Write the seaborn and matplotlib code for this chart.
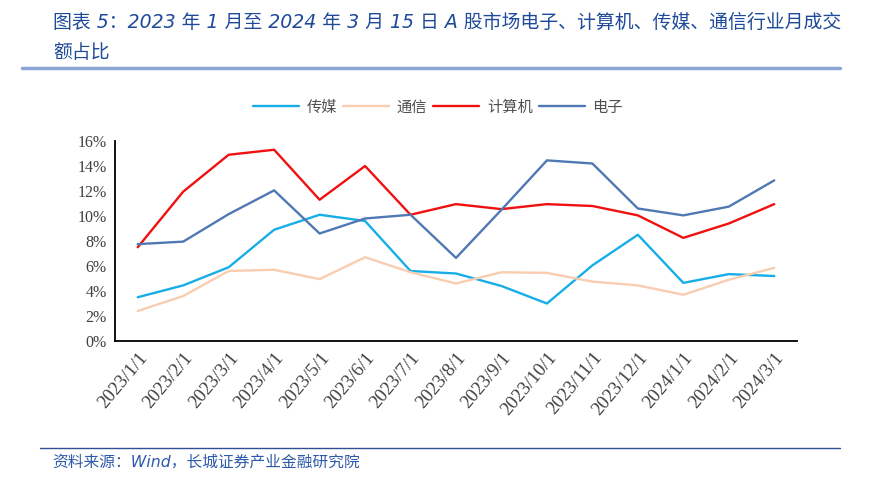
import seaborn as sns
import pandas as pd
import matplotlib.pyplot as plt
import matplotlib.ticker as mticker

# data (monthly turnover share, %)
months = ['2023/1/1', '2023/2/1', '2023/3/1', '2023/4/1', '2023/5/1', '2023/6/1',
          '2023/7/1', '2023/8/1', '2023/9/1', '2023/10/1', '2023/11/1', '2023/12/1',
          '2024/1/1', '2024/2/1', '2024/3/1']
media = [3.5, 4.45, 5.9, 8.9, 10.1, 9.6, 5.6, 5.4, 4.4, 3.0, 6.05, 8.5, 4.65, 5.35, 5.2]
telecom = [2.4, 3.6, 5.6, 5.7, 4.95, 6.7, 5.5, 4.6, 5.5, 5.45, 4.75, 4.45, 3.7, 4.9, 5.85]
computer = [7.5, 11.95, 14.9, 15.3, 11.3, 14.0, 10.1, 10.95, 10.55, 10.95, 10.8, 10.05, 8.25, 9.4, 10.95]
electronics = [7.75, 7.95, 10.15, 12.05, 8.6, 9.8, 10.1, 6.65, 10.5, 14.45, 14.2, 10.6, 10.05, 10.75, 12.85]

series_names = ['传媒', '通信', '计算机', '电子']
colors = ['#17AEE8', '#F8CDB0', '#F01010', '#5078B4']

df = pd.DataFrame({
    'month': months * 4,
    'industry': [n for n in series_names for _ in months],
    'share': media + telecom + computer + electronics,
})

sns.set_style('white')
plt.rcParams['font.family'] = ['DejaVu Sans', 'Noto Sans CJK SC']

fig = plt.figure(figsize=(8.76, 5.04), dpi=100)
ax = fig.add_axes([115 / 876, 1 - 341 / 504, (797 - 115) / 876, 200 / 504])

sns.lineplot(data=df, x='month', y='share', hue='industry', hue_order=series_names,
             palette=colors, linewidth=1.7, sort=False, ax=ax)

ax.set_xlim(-0.5, len(months) - 0.5)
ax.set_ylim(0, 16)
ax.set_yticks(range(0, 17, 2))
ax.yaxis.set_major_formatter(mticker.FuncFormatter(lambda v, p: f'{int(v)}%'))
ax.set_xticks(range(len(months)))
ax.set_xticklabels(months)
ax.set_xticks([i - 0.5 for i in range(len(months) + 1)], minor=True)
ax.tick_params(axis='x', which='major', length=0, pad=6)
ax.tick_params(axis='x', which='minor', length=5, width=1.2, color='black', direction='out')
ax.tick_params(axis='y', length=4, width=1.2, color='black', direction='out', pad=2)
for lab in ax.get_xticklabels():
    lab.set_rotation(50)
    lab.set_ha('right')
    lab.set_rotation_mode('anchor')
    lab.set_fontsize(13.5)
for lab in ax.get_yticklabels():
    lab.set_fontsize(11.5)
for lab in ax.get_xticklabels() + ax.get_yticklabels():
    lab.set_family('Liberation Serif')
    lab.set_color('#404040')
ax.set_xlabel('')
ax.set_ylabel('')
for s in ['top', 'right']:
    ax.spines[s].set_visible(False)
for s in ['left', 'bottom']:
    ax.spines[s].set_color('black')
    ax.spines[s].set_linewidth(1.3)
ax.grid(False)

handles, labels = ax.get_legend_handles_labels()
ax.get_legend().remove()
leg = fig.legend(handles, labels, loc='center', bbox_to_anchor=(0.5, 1 - 107 / 504),
                 ncol=4, frameon=False, handlelength=3.0, handletextpad=0.5,
                 columnspacing=0.4, prop={'family': 'Noto Sans CJK SC', 'size': 11})
for t in leg.get_texts():
    t.set_color('#505050')

# title, separators and source note
fig.text(53 / 876, 1 - 22 / 504,
         '图表 5：2023 年 1 月至 2024 年 3 月 15 日 A 股市场电子、计算机、传媒、通信行业月成交',
         fontsize=13.6, style='italic', color='#1F4A9A', va='center', ha='left')
fig.text(53 / 876, 1 - 52 / 504, '额占比', fontsize=13.6, style='italic',
         color='#1F4A9A', va='center', ha='left')
fig.add_artist(plt.Line2D([22 / 876, 840 / 876], [1 - 68 / 504] * 2,
                          color='#8AA5D6', linewidth=2.5))
fig.add_artist(plt.Line2D([40 / 876, 840 / 876], [1 - 448 / 504] * 2,
                          color='#2E4F96', linewidth=1))
fig.text(52 / 876, 1 - 462 / 504, '资料来源：Wind，长城证券产业金融研究院',
         fontsize=11.3, style='italic', color='#2E5AAA', va='center', ha='left')

fig.savefig('out.png', dpi=100)
